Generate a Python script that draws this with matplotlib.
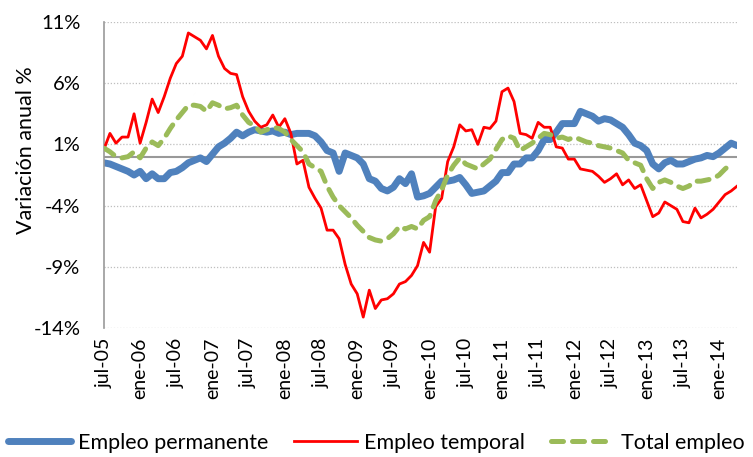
import matplotlib.pyplot as plt

# variacion anual (%) mensual, jul-05 .. abr-14
permanente = [-0.5, -0.6, -0.8, -1.0, -1.2, -1.5, -1.2, -1.8, -1.4, -1.8,
              -1.8, -1.3, -1.2, -0.9, -0.5, -0.3, -0.1, -0.4, 0.2, 0.8,
              1.1, 1.5, 2.0, 1.7, 2.0, 2.2, 2.1, 2.0, 2.1, 1.9,
              2.0, 1.8, 1.9, 1.9, 1.9, 1.7, 1.2, 0.5, 0.3, -1.2,
              0.3, 0.1, -0.1, -0.6, -1.8, -2.0, -2.6, -2.8, -2.5, -1.8,
              -2.2, -1.4, -3.3, -3.2, -3.0, -2.5, -2.0, -2.0, -1.9, -1.7,
              -2.3, -3.0, -2.9, -2.8, -2.4, -2.0, -1.3, -1.3, -0.6, -0.6,
              -0.1, -0.1, 0.5, 1.4, 1.4, 2.0, 2.7, 2.7, 2.7, 3.7,
              3.5, 3.3, 2.9, 3.1, 3.0, 2.7, 2.4, 1.8, 1.1, 0.9,
              0.5, -0.6, -1.0, -0.5, -0.3, -0.6, -0.6, -0.4, -0.2, -0.1,
              0.1, 0.0, 0.3, 0.7, 1.1, 0.9]
temporal = [0.6, 1.9, 1.1, 1.6, 1.6, 3.5, 1.1, 2.8, 4.7, 3.6,
            4.9, 6.4, 7.6, 8.2, 10.1, 9.8, 9.5, 8.8, 9.9, 8.2,
            7.2, 6.8, 6.7, 4.9, 3.7, 2.9, 2.4, 2.6, 3.4, 2.4,
            3.1, 1.9, -0.6, -0.3, -2.5, -3.4, -4.2, -6.0, -6.0, -6.7,
            -8.8, -10.4, -11.2, -13.1, -10.9, -12.4, -11.7, -11.6, -11.2, -10.4,
            -10.2, -9.7, -8.9, -7.0, -7.8, -4.1, -3.4, -0.4, 0.8, 2.6,
            2.1, 2.2, 1.0, 2.4, 2.3, 2.9, 5.3, 5.6, 4.5, 1.9,
            1.8, 1.5, 2.8, 2.4, 2.4, 0.8, 0.7, -0.2, -0.2, -1.0,
            -1.1, -1.2, -1.6, -2.1, -1.8, -1.4, -2.3, -1.9, -2.6, -2.3,
            -3.6, -4.9, -4.6, -3.7, -4.0, -4.3, -5.3, -5.4, -4.2, -5.0,
            -4.7, -4.3, -3.7, -3.1, -2.8, -2.4]
total = [0.7, 0.4, 0.0, -0.1, 0.0, 0.4, -0.1, 0.7, 1.2, 0.9,
         1.5, 2.3, 3.0, 3.6, 4.2, 4.2, 4.1, 3.7, 4.4, 4.2,
         3.9, 4.0, 4.2, 3.4, 2.8, 2.5, 2.0, 2.2, 2.4, 2.3,
         2.0, 1.4, 0.9, 0.4, -0.6, -0.9, -1.2, -2.4, -3.3, -4.0,
         -4.5, -5.0, -5.6, -6.1, -6.6, -6.8, -6.9, -6.7, -6.3, -5.7,
         -5.9, -5.7, -5.9, -5.2, -4.9, -3.6, -2.7, -1.5, -0.7, -0.1,
         -0.6, -0.8, -1.0, -0.6, -0.2, 0.6, 1.4, 1.7, 1.5, 0.5,
         0.8, 1.1, 1.5, 1.9, 1.8, 1.5, 1.6, 1.4, 1.6, 1.4,
         1.2, 1.1, 0.9, 0.8, 0.7, 0.5, 0.3, -0.3, -0.5, -0.7,
         -1.8, -2.6, -2.1, -1.9, -2.1, -2.4, -2.6, -2.4, -2.0, -2.0,
         -1.9, -1.8, -1.5, -1.0, -0.6]

etiquetas = ['jul-05', 'ene-06', 'jul-06', 'ene-07', 'jul-07', 'ene-08',
             'jul-08', 'ene-09', 'jul-09', 'ene-10', 'jul-10', 'ene-11',
             'jul-11', 'ene-12', 'jul-12', 'ene-13', 'jul-13', 'ene-14']
y_ticks = [-14, -9, -4, 1, 6, 11]

plt.rcParams['font.family'] = ['Lato', 'DejaVu Sans']

fig = plt.figure(figsize=(7.53, 4.57), dpi=100)
ax = fig.add_axes([0.138, 0.282, 0.841, 0.670])

ax.axhline(0, color='#999999', lw=1.5, zorder=1)
ax.plot(range(len(permanente)), permanente, color='#4F81BD', lw=5,
        solid_capstyle='round', label='Empleo permanente', zorder=2)
ax.plot(range(len(temporal)), temporal, color='#FF0000', lw=2,
        label='Empleo temporal', zorder=3)
ax.plot(range(len(total)), total, color='#9BBB59', lw=3.6,
        dashes=(2.4, 1.8), dash_capstyle='round', label='Total empleo', zorder=4)

ax.set_xlim(0, len(permanente) - 1)
ax.set_ylim(-14, 11)
ax.set_yticks(y_ticks)
ax.set_yticklabels([f'{v}%' for v in y_ticks], fontsize=14.5)
ax.set_xticks(range(0, 6 * len(etiquetas), 6))
ax.set_xticklabels(etiquetas, rotation=90, fontsize=14)
ax.tick_params(axis='y', length=0, pad=17)
ax.tick_params(axis='x', length=0, pad=7)
ax.grid(axis='y', color='#BFBFBF', ls=(0, (1, 1.5)), lw=0.9)

for s in ['top', 'right', 'bottom']:
    ax.spines[s].set_visible(False)
ax.spines['left'].set_color('#999999')
ax.spines['left'].set_linewidth(1.2)

fig.text(0.034, 0.672, 'Variación anual %', rotation=90, fontsize=15.5,
         ha='center', va='center')

fig.legend(loc='center', bbox_to_anchor=(0.5, 1 - 443 / 457), ncol=3,
           frameon=False, fontsize=15.5, handlelength=2.9, columnspacing=1.2,
           handletextpad=0.35)

fig.savefig('out.png', dpi=100)
